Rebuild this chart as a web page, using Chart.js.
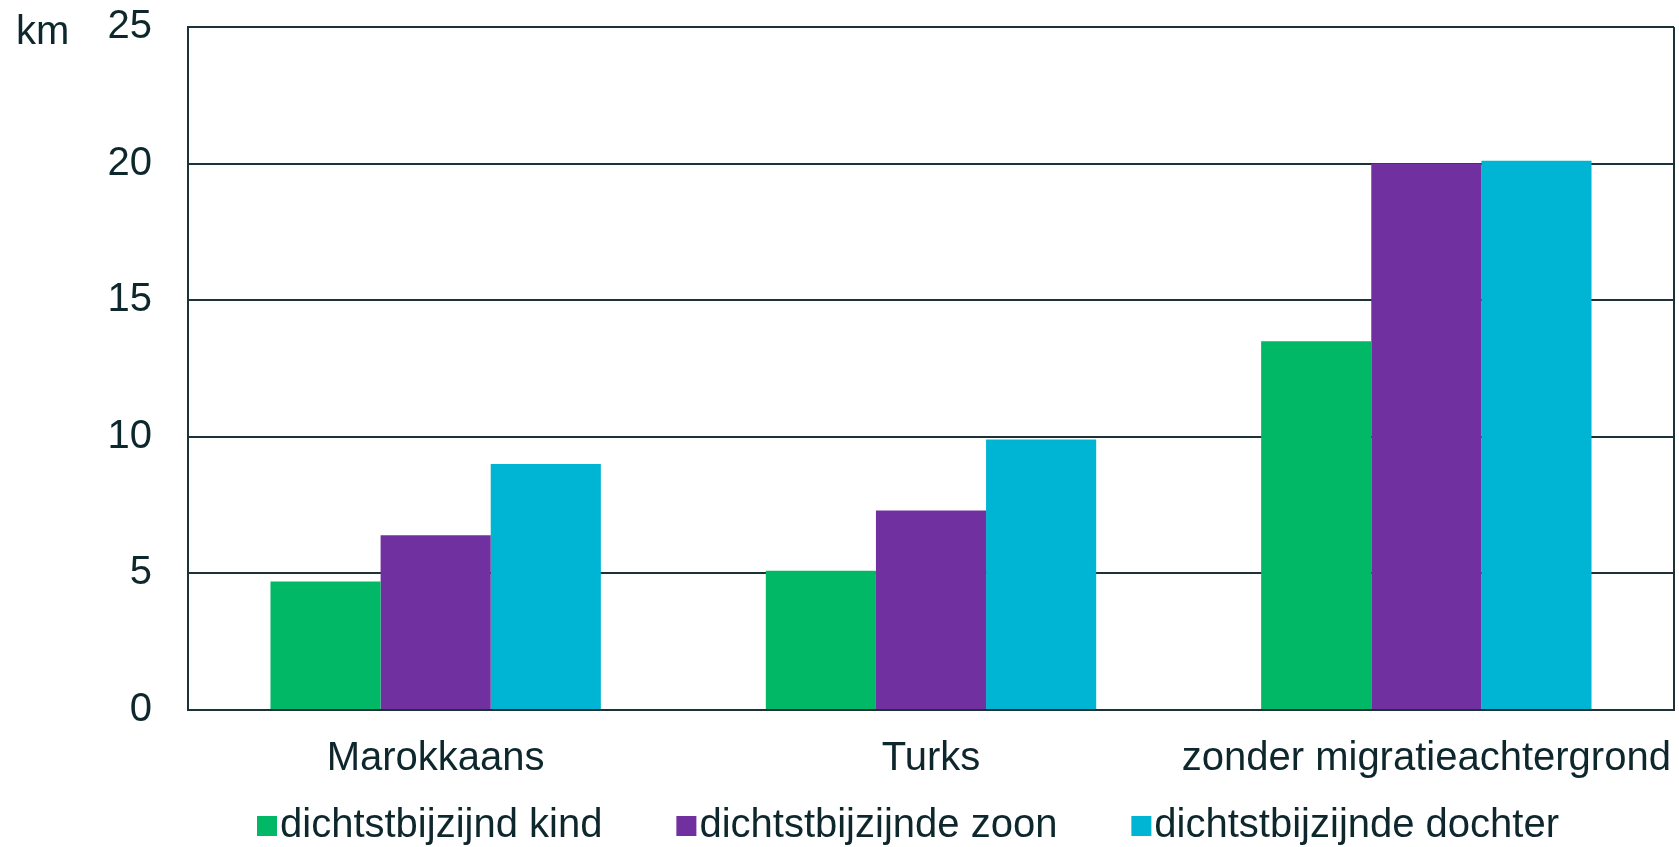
<!DOCTYPE html>
<html>
<head>
<meta charset="utf-8">
<script src="https://cdn.jsdelivr.net/npm/chart.js@4"></script>
<style>
  html, body { margin: 0; padding: 0; background: #fff; }
  #wrap { width: 1679px; height: 847px; }
</style>
</head>
<body>
<div id="wrap"><canvas id="myChart" width="1679" height="847"></canvas></div>
<script>
// afstand tot dichtstbijzijnd kind (km)
var categories = ["Marokkaans", "Turks", "zonder migratieachtergrond"];
var seriesNames = ["dichtstbijzijnd kind", "dichtstbijzijnde zoon", "dichtstbijzijnde dochter"];
var kind = [4.7, 5.1, 13.5];
var zoon = [6.4, 7.3, 20.0];
var dochter = [9.0, 9.9, 20.1];
var yTicks = [0, 5, 10, 15, 20, 25];

var colors = ["#00b865", "#7030a0", "#00b4d3"];
var textColor = "#0d272c";
var lineColor = "#1b3236";
var fontFamily = "'Liberation Sans', Arial, sans-serif";
var fontSize = 40;

var ctx = document.getElementById("myChart").getContext("2d");

// km label, right border and legend drawn on the canvas
var extras = {
    id: "extras",
    afterDraw: function (chart) {
        var c = chart.ctx;
        var area = chart.chartArea;
        c.save();
        c.strokeStyle = lineColor;
        c.lineWidth = 2;
        c.beginPath();
        c.moveTo(area.right, area.top);
        c.lineTo(area.right, area.bottom);
        c.stroke();

        c.fillStyle = textColor;
        c.font = fontSize + "px " + fontFamily;
        c.textBaseline = "alphabetic";
        c.textAlign = "left";
        c.fillText("km", 16, 44);

        // legend
        var x = 257;
        var y = 826;
        chart.data.datasets.forEach(function (ds) {
            c.fillStyle = ds.backgroundColor;
            c.fillRect(x, y - 10, 20, 20);
            c.fillStyle = textColor;
            c.textBaseline = "middle";
            c.fillText(ds.label, x + 23, y);
            x += 23 + c.measureText(ds.label).width + 74;
        });
        c.restore();
    }
};

var datasets = [kind, zoon, dochter].map(function (data, i) {
    return {
        label: seriesNames[i],
        data: data,
        backgroundColor: colors[i],
        borderWidth: 0
    };
});

var myChart = new Chart(ctx, {
    type: "bar",
    data: {
        labels: categories,
        datasets: datasets
    },
    options: {
        responsive: false,
        animation: false,
        devicePixelRatio: 1,
        layout: { padding: { top: 27, right: 5, left: 0, bottom: 0 } },
        datasets: {
            bar: { categoryPercentage: 0.667, barPercentage: 1.0 }
        },
        plugins: {
            legend: { display: false },
            tooltip: { enabled: false }
        },
        scales: {
            x: {
                grid: { display: false, drawTicks: false },
                border: { display: true, color: lineColor, width: 2 },
                ticks: {
                    color: textColor,
                    font: { family: fontFamily, size: fontSize },
                    padding: 25,
                    maxRotation: 0,
                    autoSkip: false
                },
                afterFit: function (scale) {
                    scale.height = 137;
                    scale.paddingLeft = 0;
                    scale.paddingRight = 0;
                }
            },
            y: {
                min: 0,
                max: 25,
                afterBuildTicks: function (scale) {
                    scale.ticks = yTicks.map(function (v) { return { value: v }; });
                },
                grid: { color: lineColor, lineWidth: 2, drawTicks: false },
                border: { display: true, color: lineColor, width: 2 },
                ticks: {
                    color: textColor,
                    font: { family: fontFamily, size: fontSize },
                    padding: 36
                },
                afterFit: function (scale) {
                    scale.width = 188;
                    scale.paddingTop = 0;
                    scale.paddingBottom = 0;
                }
            }
        }
    },
    plugins: [extras]
});
</script>
</body>
</html>
